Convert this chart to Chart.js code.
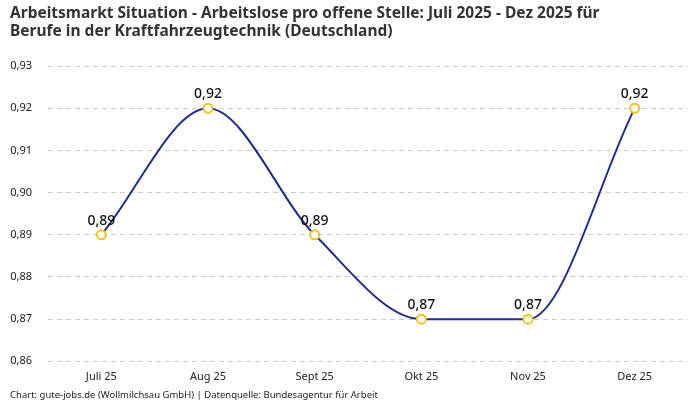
<!DOCTYPE html>
<html><head><meta charset="utf-8">
<script src="https://cdn.jsdelivr.net/npm/chart.js@4"></script>
<style>html,body{margin:0;padding:0;background:#fff}#w{width:700px;height:400px}</style>
</head><body><div id="w"><canvas id="c"></canvas></div>
<script>
const categories = ["Juli 25","Aug 25","Sept 25","Okt 25","Nov 25","Dez 25"];
const values = [0.89, 0.92, 0.89, 0.87, 0.87, 0.92];
const titleLines = ["Arbeitsmarkt Situation - Arbeitslose pro offene Stelle: Juli 2025 - Dez 2025 für","Berufe in der Kraftfahrzeugtechnik (Deutschland)"];
const footerText = "Chart: gute-jobs.de (Wollmilchsau GmbH) | Datenquelle: Bundesagentur für Arbeit";
const fmt = v => v.toFixed(2).replace('.', ',');
const FONT = "'Noto Sans', sans-serif";

const labelPlugin = {
  id: 'labels',
  afterDatasetsDraw(chart) {
    const ctx = chart.ctx;
    const meta = chart.getDatasetMeta(0);
    ctx.save();
    ctx.font = "500 14px " + FONT;
    ctx.fillStyle = "#111";
    ctx.textAlign = "center";
    ctx.textBaseline = "bottom";
    meta.data.forEach((pt, i) => {
      ctx.fillText(fmt(values[i]), pt.x, pt.y - 7);
    });
    ctx.restore();
  }
};

new Chart(document.getElementById('c'), {
  type: 'line',
  data: {
    labels: categories,
    datasets: [{
      data: values,
      borderColor: '#1f2d8c',
      borderWidth: 2,
      cubicInterpolationMode: 'monotone',
      pointRadius: 4.5,
      pointBorderWidth: 2,
      pointBorderColor: '#f7c21b',
      pointBackgroundColor: '#fff',
      fill: false
    }]
  },
  options: {
    responsive: true,
    maintainAspectRatio: false,
    animation: false,
    layout: { padding: { left: 10, right: 12, top: 0, bottom: 0 } },
    plugins: {
      legend: { display: false },
      tooltip: { enabled: false },
      title: {
        display: true, text: titleLines, align: 'start', color: '#333',
        font: { family: FONT, size: 15.5, weight: 'bold', lineHeight: 1.2 },
        padding: { top: 4, bottom: 25 }
      },
      subtitle: {
        display: true, text: footerText, position: 'bottom', align: 'start', color: '#222',
        font: { family: FONT, size: 9.5, lineHeight: 1.0 }, padding: { top: -2, bottom: 0 }
      }
    },
    scales: {
      x: {
        offset: true,
        grid: { display: false, drawTicks: false },
        border: { display: false },
        ticks: { color: '#222', font: { family: FONT, size: 11 }, padding: 9 }
      },
      y: {
        min: 0.86, max: 0.93,
        border: { display: false, dash: [5, 4] },
        grid: { color: '#ccc', drawTicks: false },
        ticks: { stepSize: 0.01, color: '#222', font: { family: FONT, size: 11 }, padding: 16,
                 callback: v => fmt(v) },
        afterFit: s => { s.width = 38; }
      }
    }
  },
  plugins: [labelPlugin]
});
</script></body></html>
